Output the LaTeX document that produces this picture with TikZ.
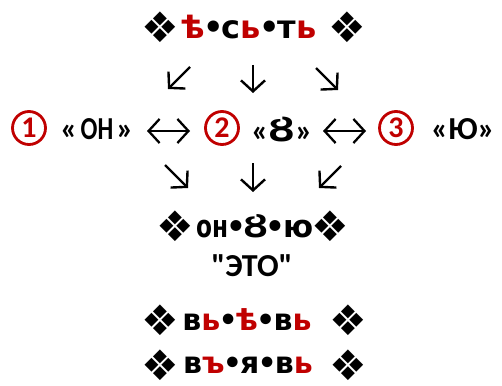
\documentclass[tikz,border=0pt]{standalone}
\usepackage{fontspec}
\usepackage{graphicx}
\setmainfont{Carlito}
\newfontfamily\djv{DejaVu Sans}
\usetikzlibrary{arrows.meta}
\definecolor{slavred}{HTML}{C00000}
\newcommand\rd[1]{\textcolor{slavred}{#1}}
\newcommand\bul{\kern-1.8pt•\kern-1.8pt}
\newcommand\tbul{\kern-2.5pt•\kern-2.5pt}
\begin{document}
\begin{tikzpicture}[x=1pt,y=1pt,
  word/.style={inner sep=0pt, font=\djv\bfseries\fontsize{30}{30}\selectfont},
  topword/.style={inner sep=0pt, font=\djv\bfseries\fontsize{32}{32}\selectfont},
  midword/.style={inner sep=0pt, font=\djv\bfseries\fontsize{31}{31}\selectfont},
  dia/.style={inner sep=0pt, font=\djv\fontsize{42}{42}\selectfont},
  lat/.style={inner sep=0pt, font=\bfseries\fontsize{32}{32}\selectfont},
  eto/.style={inner sep=0pt, font=\bfseries\fontsize{32}{32}\selectfont},
  num/.style={circle, draw=slavred, line width=2.8pt, minimum size=33pt,
    inner sep=0pt, text=slavred, font=\bfseries\fontsize{30}{30}\selectfont},
  barb/.tip={Straight Barb[length=11pt,width=24pt]},
  arr/.style={line width=2.4pt, -barb},
  darr/.style={line width=2.3pt, barb-barb}]
\useasboundingbox (0,0) rectangle (502,-385);

% first word
\node[dia]     (t1) at (160,-27) {❖};
\node[topword] (top) at (249,-27) {\rd{ѣ}\bul с\rd{ь}\bul т\rd{ь}};
\node[dia]     (t2) at (347,-27) {❖};

% arrows down to the three variants
\coordinate (d1s) at (190,-67); \coordinate (d1e) at (168,-89);
\coordinate (d2s) at (253,-65); \coordinate (d2e) at (253,-93);
\coordinate (d3s) at (316,-68); \coordinate (d3e) at (338,-90);
\draw[arr] (d1s) -- (d1e);
\draw[arr] (d2s) -- (d2e);
\draw[arr] (d3s) -- (d3e);

% the three variants
\node[num] (n1) at (29,-128) {1};
\node[lat] (w1) at (97,-129) {«\kern3pt\scalebox{0.78}[1]{ОН}\kern3pt»};
\node[num] (n2) at (222,-128) {2};
\node[lat] (w2) at (282,-129) {«{\djv\fontsize{33}{33}\selectfont Ȣ}»};
\node[num] (n3) at (396,-128) {3};
\node[lat] (w3) at (463,-129) {«Ю»};
\coordinate (h1a) at (147,-131); \coordinate (h1b) at (190,-131);
\coordinate (h2a) at (323,-131); \coordinate (h2b) at (366,-131);
\draw[darr] (h1a) -- (h1b);
\draw[darr] (h2a) -- (h2b);

% arrows converging
\coordinate (u1s) at (165,-165); \coordinate (u1e) at (188,-188);
\coordinate (u2s) at (253,-163); \coordinate (u2e) at (253,-192);
\coordinate (u3s) at (341,-166); \coordinate (u3e) at (319,-188);
\draw[arr] (u1s) -- (u1e);
\draw[arr] (u2s) -- (u2e);
\draw[arr] (u3s) -- (u3e);

% combined form and its readings
\node[dia]     (m1) at (175,-226) {❖};
\node[midword] (mid) at (255,-226) {\scalebox{0.75}[1]{он}\tbul Ȣ\tbul ю};
\node[dia]     (m2) at (330,-226) {❖};

\node[eto] (eto) at (252,-266) {\textquotedbl ЭТО\textquotedbl};

\node[dia]  (a1) at (160,-320) {❖};
\node[word] (r7) at (247,-320) {в\rd{ь}\bul\rd{ѣ}\bul в\rd{ь}};
\node[dia]  (a2) at (348,-320) {❖};

\node[dia]  (b1) at (160,-365) {❖};
\node[word] (r8) at (248,-365) {в\rd{ъ}\bul я\bul в\rd{ь}};
\node[dia]  (b2) at (348,-365) {❖};
\end{tikzpicture}
\end{document}
